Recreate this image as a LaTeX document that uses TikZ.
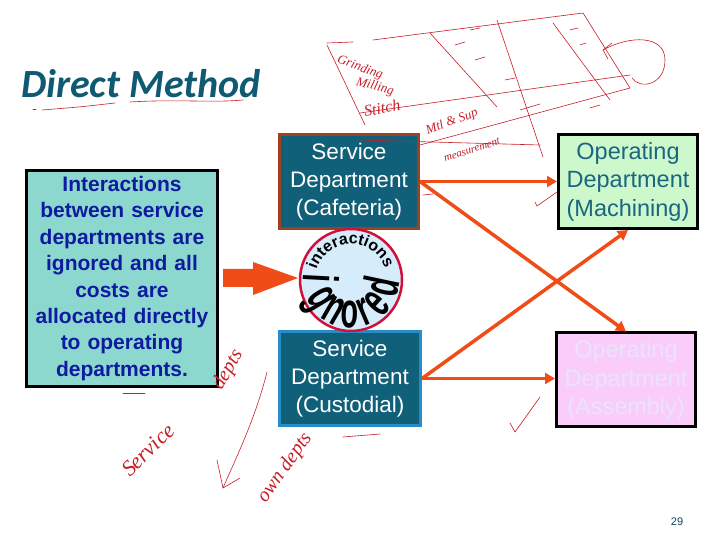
\documentclass[tikz,border=0pt]{standalone}
\usepackage{fontspec}
\setmainfont{Liberation Sans}
\newfontfamily\titlefont{Carlito}
\newfontfamily\handfont{Liberation Serif}
\usetikzlibrary{arrows.meta,decorations.text,calc}
\definecolor{titleblue}{RGB}{14,90,115}
\definecolor{leftfill}{RGB}{140,216,206}
\definecolor{lefttext}{RGB}{16,26,160}
\definecolor{servfill}{RGB}{17,96,122}
\definecolor{cafborder}{RGB}{160,64,30}
\definecolor{custborder}{RGB}{40,140,200}
\definecolor{machfill}{RGB}{204,248,204}
\definecolor{machtext}{RGB}{26,102,128}
\definecolor{asmfill}{RGB}{250,204,250}
\definecolor{asmtext}{RGB}{234,228,250}
\definecolor{arrowred}{RGB}{240,76,24}
\definecolor{circfill}{RGB}{214,236,250}
\definecolor{circborder}{RGB}{208,16,58}
\definecolor{ink}{RGB}{200,30,40}
\newcommand{\wordart}[1]{\scalebox{0.72}[1.25]{#1}}
\begin{document}
\begin{tikzpicture}[x=1pt,y=1pt,
  servbox/.style={line width=3pt, fill=servfill, minimum width=139pt, minimum height=94pt,
    inner sep=0pt, text=white, align=center, font=\fontsize{22.5}{28}\selectfont},
  opbox/.style={draw=black, line width=3pt, minimum width=139pt, minimum height=94pt,
    inner sep=0pt, align=center, font=\fontsize{23.5}{28.5}\selectfont},
  conn/.style={draw=arrowred, line width=3.5pt, -{Triangle[length=10pt,width=11pt]}},
  scrib/.style={draw=ink, line width=0.6pt, line cap=round, line join=round},
  handtext/.style={text=ink, inner sep=0pt, font=\handfont\itshape\fontsize{13}{13}\selectfont},
  igletter/.style={anchor=base, inner sep=0pt, text=black, font=\bfseries\fontsize{40}{40}\selectfont}]
\useasboundingbox (0,0) rectangle (720,540);
\fill[white] (0,0) rectangle (720,540);

% title
\node[anchor=base west, inner sep=0pt, text=titleblue,
  font=\titlefont\bfseries\itshape\fontsize{40}{42}\selectfont] (title) at (21,442) {Direct Method};

% left explanation box
\node[draw=black, line width=3pt, fill=leftfill, minimum width=191pt, minimum height=216pt,
  inner sep=0pt, text width=190pt, align=center, text=lefttext,
  font=\bfseries\fontsize{21}{26.4}\selectfont] (info) at (122,261.5)
  {Interactions\\between service\\departments are\\ignored and all\\costs are\\allocated directly\\to operating\\departments.};

% departments
\node[servbox, draw=cafborder] (caf) at (349,358.5) {Service\\Department\\(Cafeteria)};
\node[servbox, draw=custborder, minimum width=141pt] (cust) at (350,161.5) {Service\\Department\\(Custodial)};
\node[opbox, fill=machfill, text=machtext] (mach) at (628,358.5) {Operating\\Department\\(Machining)};
\node[opbox, fill=asmfill, text=asmtext] (asm) at (626,160) {Operating\\Department\\(Assembly)};

% circle
\node[circle, draw=circborder, line width=2.5pt, fill=circfill, minimum size=102pt, inner sep=0pt] (circ) at (351,260) {};
\path[decorate, decoration={text along path, text align=center,
  text={|\bfseries\fontsize{16}{16}\selectfont|interactions}}]
  (circ.center) ++(170:36) arc[start angle=170, end angle=12, radius=36];
\foreach \ang/\ch [count=\k] in {177/i, 211/g, 240/n, 268/o, 293/r, 318/e, 348/d}
  \node[igletter, rotate=\ang+90] (ig\k) at ($(circ.center)+(\ang:48)$) {\wordart{\ch}};

% big block arrow
\fill[arrowred] (223,253) -- (253,253) -- (253,245) -- (298,262) -- (253,278) -- (253,271) -- (223,271) -- cycle;

% connectors
\draw[conn] (caf.east) -- (mach.west);
\draw[conn] (caf.east) -- (asm.north);
\draw[conn] (cust.east) -- (cust.east -| asm.west);
\draw[conn] (cust.east) -- (mach.south);

% page number
\node[text=titleblue!80!black, inner sep=0pt, font=\fontsize{11}{11}\selectfont] (pg) at (677,18) {29};

% handwritten annotations
\draw[scrib] (33,431) -- (36,431);
\draw[scrib] (42,430) .. controls (80,433) .. (115,437);
\draw[scrib] (130,438) .. controls (180,441) and (210,437) .. (243,440);
% table sketch
\draw[scrib] (327,497) -- (353,498);
\draw[scrib] (373,500) -- (583,527) -- (630,452);
\draw[scrib] (327,495) -- (365,415);
\draw[scrib] (360,427) -- (630,465);
\draw[scrib] (420,395) -- (630,452);
\draw[scrib] (360,400) -- (540,395);
\draw[scrib] (430,507) -- (497,433);
\draw[scrib] (497,520) -- (543,383);
\draw[scrib] (553,517) -- (610,440);
\draw[scrib] (455,495) -- (465,498) (475,480) -- (485,483) (505,460) -- (515,462)
  (570,510) -- (578,512) (580,495) -- (586,497) (520,430) -- (540,436) (590,432) -- (600,435)
  (470,510) -- (480,512);
\draw[scrib] (603,490) .. controls (630,505) and (665,505) .. (665,480)
  .. controls (665,455) and (640,450) .. (632,462);
\draw[scrib] (603,490) -- (612,497) (603,490) -- (608,481);
\node[handtext, rotate=-20] (h1) at (360,472) {Grinding};
\node[handtext, rotate=-15] (h2) at (375,453) {Milling};
\node[handtext, rotate=10, font=\handfont\itshape\fontsize{16}{16}\selectfont] (h3) at (382,432) {Stitch};
\node[handtext, rotate=20] (h4) at (452,418) {Mtl \& Sup};
\node[handtext, rotate=18, font=\handfont\itshape\fontsize{11}{11}\selectfont] (h5) at (472,390) {measurement};
% small marks
\draw[scrib] (423,345) -- (433,346);
\draw[scrib] (535,338) -- (537,334) -- (557,348);
\draw[scrib] (510,117) -- (515,108) -- (540,143);
\draw[scrib] (123,147) -- (145,147);
\draw[scrib] (343,103) -- (380,106);
% long arrow
\draw[scrib] (267,168) .. controls (255,120) and (235,80) .. (223,52);
\draw[scrib] (217,80) -- (223,52) -- (240,62);
\node[handtext, rotate=45, font=\handfont\itshape\fontsize{22}{22}\selectfont] (h6) at (148,90) {Service};
\node[handtext, rotate=60, font=\handfont\itshape\fontsize{20}{20}\selectfont] (h7) at (228,170) {depts};
\node[handtext, rotate=55, font=\handfont\itshape\fontsize{20}{20}\selectfont] (h8) at (285,72) {own depts};
\end{tikzpicture}
\end{document}
